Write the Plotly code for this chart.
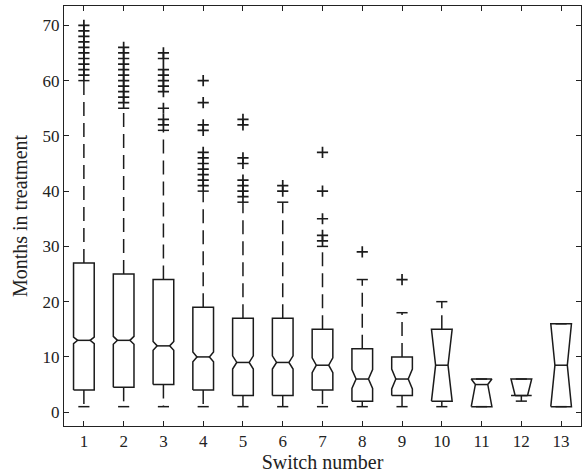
import plotly.graph_objects as go

# ---- data ----
switch_number = list(range(1, 14))
q1 = [4, 4.5, 5, 4, 3, 3, 4, 2, 3, 2, 1, 3, 1]
median = [13, 13, 12, 10, 9, 9, 8.5, 6, 6, 8.5, 5, 3, 8.5]
q3 = [27, 25, 24, 19, 17, 17, 15, 11.5, 10, 15, 6, 6, 16]
lower_whisker = [1, 1, 1, 1, 1, 1, 1, 1, 1, 1, 1, 2, 1]
upper_whisker = [60, 55, 51, 40, 38, 38, 30, 24, 18, 20, 6, 6, 16]
notch_half = [0.6, 0.72, 0.8, 0.9, 1.2, 1.2, 1.35, 1.7, 1.8, 7.2, 4, 4, 9]
outliers = [
    [61, 62, 63, 64, 65, 66, 67, 68, 69, 70],
    [56, 57, 58, 59, 60, 61, 62, 63, 64, 65, 66],
    [52, 53, 55, 58, 59, 60, 61, 62, 64, 65],
    [41, 42, 43, 44, 45, 46, 47, 51, 52, 56, 60],
    [39, 40, 41, 42, 45, 46, 52, 53],
    [40, 41],
    [31, 32, 35, 40, 47],
    [29],
    [24],
    [], [], [], [],
]
x_ticks = [str(v) for v in switch_number]

# ---- style ----
HW = 0.26        # box half width (x units)
INSET = 0.4      # notch inset as fraction of half width
CAP = 0.14       # whisker cap half width
LC = "#1b1b1b"
LW = 1.5
FONT = "Liberation Serif"

fig = go.Figure()

box_x, box_y = [], []
med_x, med_y = [], []
wh_x, wh_y = [], []
cap_x, cap_y = [], []
out_x, out_y = [], []

for i, x in enumerate(switch_number):
    a, m, b = q1[i], median[i], q3[i]
    lo = max(a, m - notch_half[i])
    hi = min(b, m + notch_half[i])
    ins = INSET * HW
    xs = [x - HW, x - HW, x - HW + ins, x - HW, x - HW,
          x + HW, x + HW, x + HW - ins, x + HW, x + HW, x - HW]
    ys = [a, lo, m, hi, b, b, hi, m, lo, a, a]
    box_x += xs + [None]
    box_y += ys + [None]
    med_x += [x - HW + ins, x + HW - ins, None]
    med_y += [m, m, None]
    wh_x += [x, x, None, x, x, None]
    wh_y += [b, upper_whisker[i], None, a, lower_whisker[i], None]
    cap_x += [x - CAP, x + CAP, None, x - CAP, x + CAP, None]
    cap_y += [upper_whisker[i], upper_whisker[i], None,
              lower_whisker[i], lower_whisker[i], None]
    for v in outliers[i]:
        out_x.append(x)
        out_y.append(v)

fig.add_trace(go.Scatter(x=wh_x, y=wh_y, mode="lines",
                         line=dict(color=LC, width=LW, dash="14px,7px"),
                         hoverinfo="skip", showlegend=False))
fig.add_trace(go.Scatter(x=cap_x, y=cap_y, mode="lines",
                         line=dict(color=LC, width=LW),
                         hoverinfo="skip", showlegend=False))
fig.add_trace(go.Scatter(x=box_x, y=box_y, mode="lines",
                         line=dict(color=LC, width=LW),
                         hoverinfo="skip", showlegend=False))
fig.add_trace(go.Scatter(x=med_x, y=med_y, mode="lines",
                         line=dict(color=LC, width=LW),
                         hoverinfo="skip", showlegend=False))
fig.add_trace(go.Scatter(x=out_x, y=out_y, mode="markers",
                         marker=dict(symbol="cross-thin", size=8,
                                     line=dict(color=LC, width=1.7)),
                         hoverinfo="skip", showlegend=False))

axis_common = dict(showline=True, linecolor="#222", linewidth=1,
                   mirror="ticks", ticks="inside", ticklen=5,
                   tickcolor="#222", showgrid=False, zeroline=False,
                   tickfont=dict(family=FONT, size=17, color="#222"),
                   automargin=False)

fig.update_layout(
    width=584, height=476,
    margin=dict(l=64, r=3, t=6, b=50),
    paper_bgcolor="white", plot_bgcolor="white",
    xaxis=dict(range=[0.5, 13.5], tickvals=switch_number, ticktext=x_ticks,
               title=dict(text="Switch number",
                          font=dict(family=FONT, size=20, color="#222"),
                          standoff=2),
               **axis_common),
    yaxis=dict(range=[-2.5, 73.5], tickvals=[0, 10, 20, 30, 40, 50, 60, 70],
               title=dict(text="Months in treatment",
                          font=dict(family=FONT, size=20, color="#222"),
                          standoff=9),
               **axis_common),
)

fig.write_html("out.html", config={"displayModeBar": False},
               post_script="document.body.style.margin='0';")
